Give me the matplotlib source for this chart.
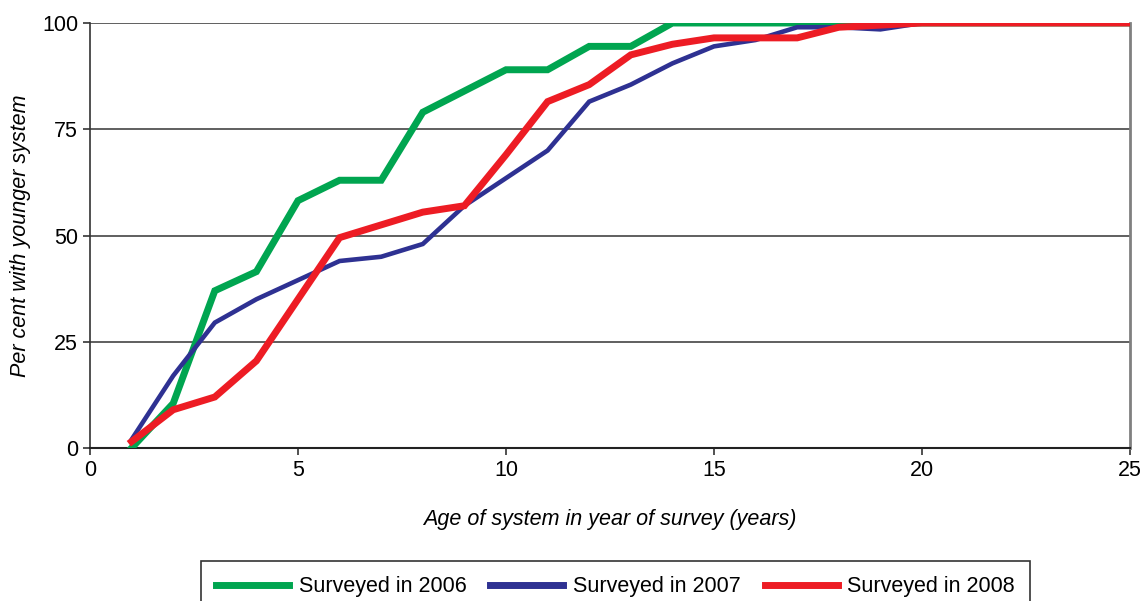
import numpy as np
import matplotlib
matplotlib.use("Agg")
import matplotlib.pyplot as plt

# Age of system (years)
ages = list(range(1, 26))

# Per cent with younger system
surveyed_2006 = [0, 10.5, 37, 41.5, 58.2, 63, 63, 79, 84, 89, 89, 94.5, 94.5,
                 100, 100, 100, 100, 100, 100, 100, 100, 100, 100, 100, 100]
surveyed_2007 = [2, 17, 29.5, 35, 39.5, 44, 45, 48, 57, 63.5, 70, 81.5, 85.5,
                 90.5, 94.5, 96, 99, 99, 98.5, 100, 100, 100, 100, 100, 100]
surveyed_2008 = [1.5, 9, 12, 20.5, 35, 49.5, 52.5, 55.5, 57, 69, 81.5, 85.5, 92.5,
                 95, 96.5, 96.5, 96.5, 99, 99.5, 100, 100, 100, 100, 100, 100]

plt.rcParams['font.family'] = ['Liberation Sans', 'DejaVu Sans']
fs = 15.5

fig = plt.figure(figsize=(11.43, 6.01), dpi=100)
ax = fig.add_axes([90 / 1143, 1 - 448 / 601, 1040 / 1143, 425 / 601])

# horizontal gridlines
for y in [25, 50, 75, 100]:
    ax.axhline(y, color='#444444', lw=1.2, zorder=1)

ax.plot(ages, surveyed_2006, color='#00A550', lw=5, label='Surveyed in 2006',
        solid_joinstyle='miter', zorder=3)
ax.plot(ages, surveyed_2007, color='#2E3192', lw=3.3, label='Surveyed in 2007',
        solid_joinstyle='miter', zorder=4)
ax.plot(ages, surveyed_2008, color='#ED1C24', lw=5, label='Surveyed in 2008',
        solid_joinstyle='miter', zorder=5)

ax.set_xlim(0, 25)
ax.set_ylim(0, 100)
ax.set_xticks([0, 5, 10, 15, 20, 25])
ax.set_yticks([0, 25, 50, 75, 100])
ax.tick_params(axis='both', labelsize=fs, direction='out', length=5, width=1.2, color='#333333')

ax.spines['top'].set_visible(False)
ax.spines['right'].set_color('#808080')
ax.spines['right'].set_linewidth(2)
ax.spines['left'].set_color('#333333')
ax.spines['bottom'].set_color('#222222')
ax.spines['left'].set_linewidth(1.2)
ax.spines['bottom'].set_linewidth(1.5)

ax.set_ylabel('Per cent with younger system', fontsize=fs, style='italic', labelpad=8)
ax.set_xlabel('Age of system in year of survey (years)', fontsize=fs, style='italic', labelpad=20)

leg = fig.legend(loc='upper center', bbox_to_anchor=(0.5385, 0.0666), ncol=3, fontsize=fs,
                 frameon=True, fancybox=False, edgecolor='black', handlelength=3.4,
                 handletextpad=0.45, columnspacing=1.1, borderpad=0.7, borderaxespad=0)
leg.get_frame().set_linewidth(1.2)
for line in leg.get_lines():
    line.set_linewidth(5)

fig.savefig('out.png', dpi=100)
